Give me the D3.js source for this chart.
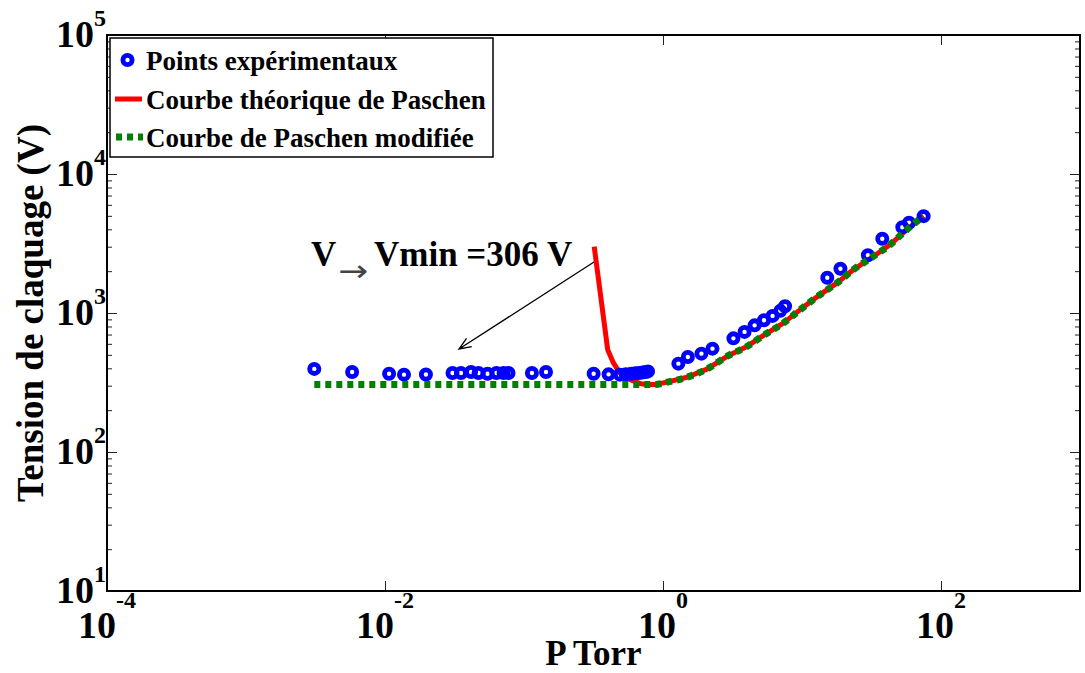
<!DOCTYPE html>
<html>
<head>
<meta charset="utf-8">
<script src="https://cdn.jsdelivr.net/npm/d3@7"></script>
<style>
  html, body { margin: 0; padding: 0; background: #fff; }
  svg { display: block; font-family: "Liberation Serif", "Times New Roman", serif; }
</style>
</head>
<body>
<svg id="chart" width="1085" height="673"></svg>
<script>
// Experimental breakdown voltage (V) versus pressure (Torr)
const pExp = [0.0031, 0.0058, 0.0107, 0.0137, 0.0197, 0.0306, 0.0352, 0.0416, 0.0471, 0.0547,
              0.0633, 0.0713, 0.0774, 0.114, 0.144, 0.317, 0.406, 0.49, 0.54, 0.59, 0.63,
              0.67, 0.71, 0.75, 0.78, 1.29, 1.51, 1.89, 2.27, 3.21, 3.86, 4.56, 5.33, 6.14,
              6.98, 7.55, 15.2, 18.9, 29.8, 37.8, 52.7, 58.9, 75.0];
const vExp = [396, 376, 366, 360, 361, 370, 370, 376, 370, 366,
              370, 370, 370, 370, 376, 366, 362, 360, 362, 365, 368,
              370, 373, 376, 380, 432, 483, 510, 554, 657, 731, 815, 886, 953,
              1036, 1117, 1791, 2079, 2606, 3420, 4143, 4457, 4973];

// Theoretical Paschen curve
const pTh = [0.32, 0.40, 0.44, 0.49, 0.58, 0.69, 0.77, 0.88, 1.07, 1.49, 2.07, 2.89, 4.02,
             5.29, 7.38, 9.72, 13.5, 17.9, 23.5, 32.7, 43.2, 56.9, 75.0];
const vTh = [3000, 545, 437, 370, 331, 310, 306, 306, 318, 345, 395, 488, 575,
             690, 849, 1058, 1357, 1648, 2054, 2562, 3110, 3990, 4973];

// Modified Paschen curve (held at Vmin below the minimum)
const pMod = [0.0031, 0.88, 1.07, 1.49, 2.07, 2.89, 4.02,
              5.29, 7.38, 9.72, 13.5, 17.9, 23.5, 32.7, 43.2, 56.9, 75.0];
const vMod = [306, 306, 318, 345, 395, 488, 575,
              690, 849, 1058, 1357, 1648, 2054, 2562, 3110, 3990, 4973];

const xTicks = [1e-4, 1e-2, 1e0, 1e2];
const xTickExp = ["-4", "-2", "0", "2"];
const yTicks = [1e1, 1e2, 1e3, 1e4, 1e5];
const yTickExp = ["1", "2", "3", "4", "5"];

const legendLabels = ["Points expérimentaux", "Courbe théorique de Paschen", "Courbe de Paschen modifiée"];
const xTitle = "P Torr";
const yTitle = "Tension de claquage (V)";
const vminText = "Vmin =306 V";

const svg = d3.select("#chart");
const L = 107, R = 1080, T = 35, B = 591;

const x = d3.scaleLog().domain([1e-4, 1e3]).range([L, R]);
const y = d3.scaleLog().domain([1e1, 1e5]).range([B, T]);

const BLUE = "#0000ff", RED = "#ff0000", GREEN = "#008000";

// Axes: ticks pointing inward on all four sides
const yMinor = [];
for (let d = 1; d < 5; d++) for (let k = 2; k <= 9; k++) yMinor.push(k * Math.pow(10, d));

function styleAxis(g) {
  g.select(".domain").remove();
  g.selectAll(".tick line").attr("stroke", "#222").attr("stroke-width", 1);
}

svg.append("g").attr("transform", `translate(0,${B})`)
  .call(d3.axisBottom(x).tickValues(xTicks).tickSize(-10).tickFormat("")).call(styleAxis);
svg.append("g").attr("transform", `translate(0,${T})`)
  .call(d3.axisTop(x).tickValues(xTicks).tickSize(-10).tickFormat("")).call(styleAxis);
svg.append("g").attr("transform", `translate(${L},0)`)
  .call(d3.axisLeft(y).tickValues(yTicks).tickSize(-10).tickFormat("")).call(styleAxis);
svg.append("g").attr("transform", `translate(${L},0)`)
  .call(d3.axisLeft(y).tickValues(yMinor).tickSize(-5).tickFormat("")).call(styleAxis);
svg.append("g").attr("transform", `translate(${R},0)`)
  .call(d3.axisRight(y).tickValues(yTicks).tickSize(-10).tickFormat("")).call(styleAxis);
svg.append("g").attr("transform", `translate(${R},0)`)
  .call(d3.axisRight(y).tickValues(yMinor).tickSize(-5).tickFormat("")).call(styleAxis);

// Frame
svg.append("rect").attr("x", L).attr("y", T).attr("width", R - L).attr("height", B - T)
  .attr("fill", "none").attr("stroke", "#000").attr("stroke-width", 2);

// Tick labels as 10 with superscript exponent
const xl = svg.append("g").attr("font-weight", "bold").attr("fill", "#000");
xTicks.forEach((v, i) => {
  const t = xl.append("text").attr("x", x(v)).attr("y", 638).attr("text-anchor", "middle");
  t.append("tspan").attr("font-size", 38).text("10");
  t.append("tspan").attr("font-size", 24).attr("dy", -30).text(xTickExp[i]);
});
const yl = svg.append("g").attr("font-weight", "bold").attr("fill", "#000");
yTicks.forEach((v, i) => {
  const t = yl.append("text").attr("x", 106).attr("y", y(v) + 12).attr("text-anchor", "end");
  t.append("tspan").attr("font-size", 38).text("10");
  t.append("tspan").attr("font-size", 24).attr("dy", -21).text(yTickExp[i]);
});

// Axis titles
svg.append("text").attr("x", (L + R) / 2).attr("y", 665).attr("text-anchor", "middle")
  .attr("font-size", 35).attr("font-weight", "bold").text(xTitle);
svg.append("text").attr("transform", `translate(43,${(T + B) / 2}) rotate(-90)`)
  .attr("text-anchor", "middle").attr("font-size", 37).attr("font-weight", "bold").text(yTitle);

// Curves
const lineSmooth = d3.line().x(d => x(d[0])).y(d => y(d[1])).curve(d3.curveMonotoneX);
const lineStraight = d3.line().x(d => x(d[0])).y(d => y(d[1]));
const thData = pTh.map((p, i) => [p, vTh[i]]);
const modData = pMod.map((p, i) => [p, vMod[i]]);
const expData = pExp.map((p, i) => [p, vExp[i]]);

svg.append("path").datum(thData).attr("d", lineStraight)
  .attr("fill", "none").attr("stroke", RED).attr("stroke-width", 5).attr("stroke-linejoin", "round");

svg.append("g").selectAll("circle").data(expData).join("circle")
  .attr("cx", d => x(d[0])).attr("cy", d => y(d[1])).attr("r", 4.6)
  .attr("fill", "none").attr("stroke", BLUE).attr("stroke-width", 4.8);

svg.append("path").datum(modData).attr("d", lineSmooth)
  .attr("fill", "none").attr("stroke", GREEN).attr("stroke-width", 7)
  .attr("stroke-dasharray", "6,5");

// Vmin annotation
const ann = svg.append("g").attr("font-weight", "bold").attr("fill", "#000");
ann.append("text").attr("x", 311).attr("y", 266).attr("font-size", 35).text("V");
ann.append("text").attr("x", 338).attr("y", 281).attr("font-size", 30).attr("font-weight", "normal")
  .attr("font-family", "DejaVu Sans").attr("fill", "#444")
  .attr("textLength", 30).attr("lengthAdjust", "spacingAndGlyphs").text("→");
ann.append("text").attr("x", 374).attr("y", 266).attr("font-size", 35).text(vminText);

const a0 = [594, 262], a1 = [459, 349];
const ang = Math.atan2(a0[1] - a1[1], a0[0] - a1[0]);
const hl = 13, hw = 0.38;
svg.append("path")
  .attr("d", `M${a0[0]},${a0[1]}L${a1[0]},${a1[1]}` +
    `M${a1[0] + hl * Math.cos(ang + hw)},${a1[1] + hl * Math.sin(ang + hw)}L${a1[0]},${a1[1]}` +
    `L${a1[0] + hl * Math.cos(ang - hw)},${a1[1] + hl * Math.sin(ang - hw)}`)
  .attr("fill", "none").attr("stroke", "#000").attr("stroke-width", 1.3);

// Legend
const lg = svg.append("g");
lg.append("rect").attr("x", 110).attr("y", 38).attr("width", 383).attr("height", 119)
  .attr("fill", "#fff").attr("stroke", "#000").attr("stroke-width", 1.5);
const rowY = [60, 99, 137];
lg.append("circle").attr("cx", 127.5).attr("cy", rowY[0]).attr("r", 4.6)
  .attr("fill", "none").attr("stroke", BLUE).attr("stroke-width", 4.8);
lg.append("line").attr("x1", 115).attr("x2", 142).attr("y1", rowY[1]).attr("y2", rowY[1])
  .attr("stroke", RED).attr("stroke-width", 5);
lg.append("line").attr("x1", 116).attr("x2", 143).attr("y1", rowY[2]).attr("y2", rowY[2])
  .attr("stroke", GREEN).attr("stroke-width", 7).attr("stroke-dasharray", "6,5");
legendLabels.forEach((s, i) => {
  lg.append("text").attr("x", 146).attr("y", rowY[i] + 9.5)
    .attr("font-size", 27).attr("font-weight", "bold").attr("fill", "#000").text(s);
});
</script>
</body>
</html>
